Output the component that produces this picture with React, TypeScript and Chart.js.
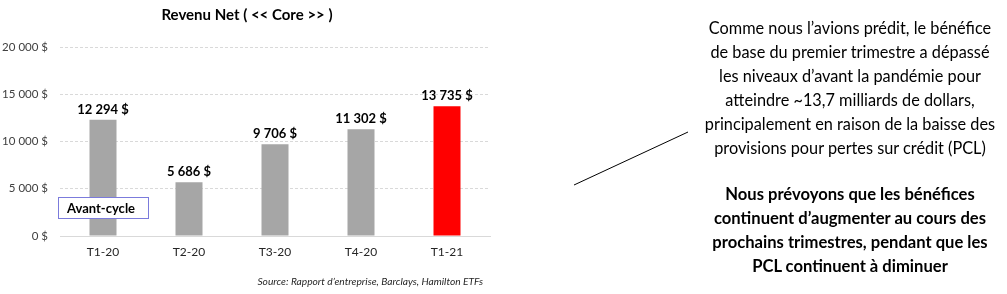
import React, { useEffect, useRef } from "react";
import { Chart, registerables } from "chart.js";

Chart.register(...registerables);

const categories = ["T1-20", "T2-20", "T3-20", "T4-20", "T1-21"];
const values = [12294, 5686, 9706, 11302, 13735];
const valueLabels = ["12 294 $", "5 686 $", "9 706 $", "11 302 $", "13 735 $"];
const barColors = ["#a6a6a6", "#a6a6a6", "#a6a6a6", "#a6a6a6", "#ff0000"];
const yTickValues = [0, 5000, 10000, 15000, 20000];
const yTickLabels = ["0 $", "5 000 $", "10 000 $", "15 000 $", "20 000 $"];
const chartTitle = "Revenu Net ( << Core >> )";
const sourceText = "Source: Rapport d’entreprise, Barclays, Hamilton ETFs";
const boxLabel = "Avant-cycle";
const paragraph1 = [
  "Comme nous l’avions prédit, le bénéfice",
  "de base du premier trimestre a dépassé",
  "les niveaux d’avant la pandémie pour",
  "atteindre ~13,7 milliards de dollars,",
  "principalement en raison de la baisse des",
  "provisions pour pertes sur crédit (PCL)",
];
const paragraph2 = [
  "Nous prévoyons que les bénéfices",
  "continuent d’augmenter au cours des",
  "prochains trimestres, pendant que les",
  "PCL continuent à diminuer",
];

const FONT = "Lato, 'Open Sans', sans-serif";

export default function App() {
  const canvasRef = useRef<HTMLCanvasElement | null>(null);

  useEffect(() => {
    const canvas = canvasRef.current;
    if (!canvas) return;

    const extras = {
      id: "extras",
      afterDatasetsDraw(chart: any) {
        const { ctx, chartArea } = chart;
        const meta = chart.getDatasetMeta(0);
        ctx.save();
        // data labels
        ctx.font = `bold 13px ${FONT}`;
        ctx.fillStyle = "#000000";
        ctx.textAlign = "center";
        ctx.textBaseline = "bottom";
        meta.data.forEach((bar: any, i: number) => {
          ctx.fillText(valueLabels[i], bar.x, bar.y - 4);
        });
        // title
        ctx.font = `bold 15px ${FONT}`;
        ctx.textBaseline = "middle";
        ctx.fillText(chartTitle, 247, 15);
        // source
        ctx.font = `italic 10.2px ${FONT}`;
        ctx.fillStyle = "#262626";
        ctx.textAlign = "right";
        ctx.fillText(sourceText, 483, 282);
        // Avant-cycle box
        const bx = chartArea.left - 1.5;
        const by = 197.5;
        ctx.fillStyle = "#ffffff";
        ctx.fillRect(bx, by, 90, 21);
        ctx.strokeStyle = "#7b7bdc";
        ctx.lineWidth = 1;
        ctx.strokeRect(bx, by, 90, 21);
        ctx.font = `bold 13px ${FONT}`;
        ctx.fillStyle = "#000000";
        ctx.textAlign = "left";
        ctx.textBaseline = "middle";
        ctx.fillText(boxLabel, bx + 8.5, by + 11);
        ctx.restore();
      },
    };

    const chart = new Chart(canvas, {
      type: "bar",
      data: {
        labels: categories,
        datasets: [
          {
            data: values,
            backgroundColor: barColors,
            borderWidth: 0,
            categoryPercentage: 1,
            barPercentage: 0.314,
          },
        ],
      },
      options: {
        responsive: false,
        animation: false,
        layout: { padding: { top: 47, left: 0, right: 30, bottom: 0 } },
        plugins: {
          legend: { display: false },
          title: { display: false },
          tooltip: { enabled: false },
        },
        scales: {
          x: {
            offset: true,
            grid: { display: false, drawTicks: false },
            border: { display: true, color: "#d9d9d9", width: 1 },
            ticks: {
              padding: 9,
              color: "#262626",
              font: { family: FONT, size: 12 },
            },
            afterFit(scale: any) {
              scale.height = 58;
            },
          },
          y: {
            min: 0,
            max: 20000,
            afterBuildTicks(scale: any) {
              scale.ticks = yTickValues.map((v) => ({ value: v }));
            },
            grid: { color: "#d9d9d9", lineWidth: 1, drawTicks: false },
            border: { display: false, dash: [3, 2] },
            ticks: {
              padding: 12,
              color: "#404040",
              font: { family: FONT, size: 11.5 },
              callback: (_v: any, i: number) => yTickLabels[i],
            },
            afterFit(scale: any) {
              scale.width = 60;
            },
          },
        },
      },
      plugins: [extras],
    });

    return () => chart.destroy();
  }, []);

  const textStyle: React.CSSProperties = {
    position: "absolute",
    left: 680,
    width: 340,
    textAlign: "center",
    fontFamily: FONT,
    fontSize: 16.3,
    lineHeight: "24px",
    color: "#000000",
    margin: 0,
    whiteSpace: "nowrap",
  };

  return (
    <div style={{ position: "fixed", left: 0, top: 0, width: 1007, height: 294, background: "#ffffff", overflow: "hidden" }}>
      <canvas ref={canvasRef} width={520} height={294} style={{ position: "absolute", left: 0, top: 0, width: 520, height: 294 }} />
      <svg width={1007} height={294} style={{ position: "absolute", left: 0, top: 0 }}>
        <line x1={574} y1={185} x2={688} y2={132} stroke="#000000" strokeWidth={1} />
      </svg>
      <div style={{ ...textStyle, top: 16 }}>
        {paragraph1.map((l, i) => (
          <div key={i}>{l}</div>
        ))}
      </div>
      <div style={{ ...textStyle, top: 182, fontWeight: "bold", fontSize: 16.6 }}>
        {paragraph2.map((l, i) => (
          <div key={i}>{l}</div>
        ))}
      </div>
    </div>
  );
}
